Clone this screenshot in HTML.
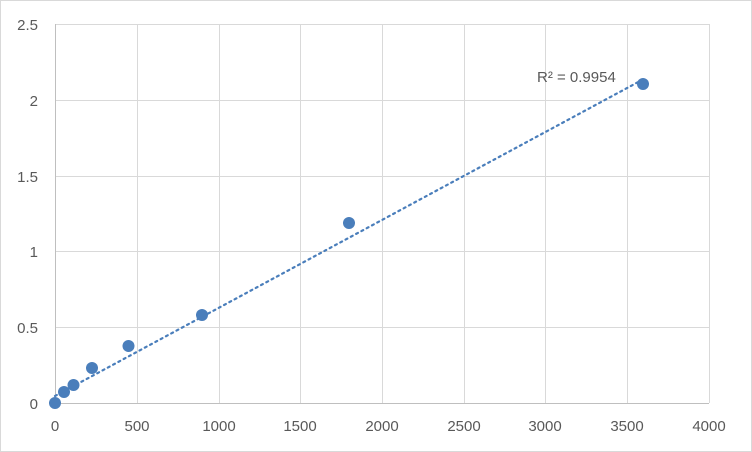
<!DOCTYPE html>
<html><head><style>
body{margin:0;background:#fff;}
svg{display:block;font-family:"Liberation Sans",sans-serif;}
</style></head><body>
<svg width="752" height="452" viewBox="0 0 752 452">
<rect x="0.5" y="0.5" width="751" height="451" fill="#fff" stroke="#d9d9d9"/>
<g stroke="#d9d9d9" stroke-width="1">
<line x1="55" y1="24.5" x2="709" y2="24.5"/>
<line x1="55" y1="100.5" x2="709" y2="100.5"/>
<line x1="55" y1="176.5" x2="709" y2="176.5"/>
<line x1="55" y1="251.5" x2="709" y2="251.5"/>
<line x1="55" y1="327.5" x2="709" y2="327.5"/>
<line x1="137.5" y1="24" x2="137.5" y2="403"/>
<line x1="219.5" y1="24" x2="219.5" y2="403"/>
<line x1="300.5" y1="24" x2="300.5" y2="403"/>
<line x1="382.5" y1="24" x2="382.5" y2="403"/>
<line x1="464.5" y1="24" x2="464.5" y2="403"/>
<line x1="545.5" y1="24" x2="545.5" y2="403"/>
<line x1="627.5" y1="24" x2="627.5" y2="403"/>
<line x1="709.5" y1="24" x2="709.5" y2="403"/>
</g>
<g stroke="#bfbfbf"><line x1="55.5" y1="24" x2="55.5" y2="403"/><line x1="55" y1="403.5" x2="709" y2="403.5"/></g>
<g fill="#595959" font-size="15" text-anchor="end">
<text x="38" y="30">2.5</text><text x="38" y="106">2</text><text x="38" y="182">1.5</text>
<text x="38" y="257">1</text><text x="38" y="333">0.5</text><text x="38" y="409">0</text>
</g>
<g fill="#595959" font-size="15" text-anchor="middle">
<text x="55" y="431">0</text><text x="137" y="431">500</text><text x="219" y="431">1000</text>
<text x="300" y="431">1500</text><text x="382" y="431">2000</text><text x="464" y="431">2500</text>
<text x="545" y="431">3000</text><text x="627" y="431">3500</text><text x="709" y="431">4000</text>
</g>
<line x1="55" y1="396" x2="642" y2="80" stroke="#4a7ebb" stroke-width="2.2" stroke-dasharray="2 4" stroke-linecap="round"/>
<g fill="#4a7ebb">
<circle cx="55" cy="403" r="6"/><circle cx="64" cy="392" r="6"/><circle cx="73.5" cy="385" r="6"/>
<circle cx="92" cy="368" r="6"/><circle cx="128.5" cy="346" r="6"/><circle cx="202" cy="315" r="6"/>
<circle cx="349" cy="223" r="6"/><circle cx="643" cy="84" r="6"/>
</g>
<text x="537" y="82" fill="#595959" font-size="15">R² = 0.9954</text>
</svg>
</body></html>
